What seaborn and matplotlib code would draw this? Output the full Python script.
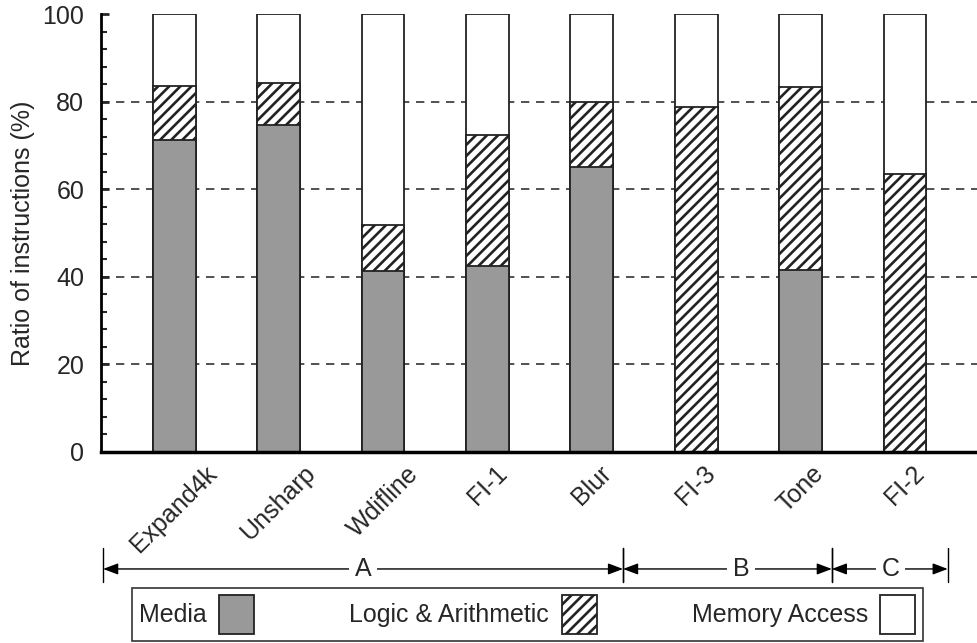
import numpy as np
import matplotlib
matplotlib.use("Agg")
import matplotlib.pyplot as plt
from matplotlib.patches import Patch
from matplotlib.ticker import MultipleLocator
import seaborn as sns

# Instruction mix per benchmark (percent of all instructions)
categories = ["Expand4k", "Unsharp", "Wdifline", "FI-1", "Blur", "FI-3", "Tone", "FI-2"]
media = [71.2, 74.6, 41.3, 42.5, 65.1, 0.0, 41.5, 0.0]
logic = [12.5, 9.7, 10.5, 30.0, 14.8, 78.7, 41.9, 63.5]
memory = [16.3, 15.7, 48.2, 27.5, 20.1, 21.3, 16.6, 36.5]
series_labels = ["Media", "Logic & Arithmetic", "Memory Access"]

# Benchmark groups: (label, left boundary, right boundary, label x)
groups = [("A", -0.68, 4.30, 1.81), ("B", 4.30, 6.30, 5.43), ("C", 6.30, 7.41, 6.86)]

sns.set_style("white")
plt.rcParams["font.family"] = ["Liberation Sans", "DejaVu Sans"]
plt.rcParams["hatch.linewidth"] = 1.9
plt.rcParams["hatch.color"] = "black"

FS = 18
EDGE = "#222222"
GRAY = "#999999"

fig = plt.figure(figsize=(9.78, 6.43), dpi=100)
ax = fig.add_axes([0.1033, 0.2975, 0.8967, 0.6804])

media_a = np.array(media)
logic_top = media_a + np.array(logic)
total = logic_top + np.array(memory)

bar_kw = dict(width=0.41, saturation=1, edgecolor=EDGE, linewidth=1.3, ax=ax, zorder=2)
sns.barplot(x=categories, y=total, color="white", **bar_kw)
sns.barplot(x=categories, y=logic_top, color="white", hatch="///", **bar_kw)
sns.barplot(x=categories, y=media_a, color=GRAY, **bar_kw)

# dashed reference lines
for lvl in [20, 40, 60, 80]:
    ax.axhline(lvl, color="#333333", lw=1.2, ls=(0, (5.0, 4.0)), zorder=0)

ax.set_xlim(-0.7, 7.7)
ax.set_ylim(0, 100)
ax.set_yticks([0, 20, 40, 60, 80, 100])
ax.yaxis.set_minor_locator(MultipleLocator(4))
ax.tick_params(axis="y", which="major", direction="in", length=6, width=2,
               labelsize=FS, pad=12, left=True)
ax.tick_params(axis="y", which="minor", direction="in", length=4, width=1.5, left=True)
ax.tick_params(axis="x", length=0, labelsize=FS, pad=7)
for lab in ax.get_xticklabels():
    lab.set_rotation(45)
    lab.set_ha("center")

for side in ["top", "right"]:
    ax.spines[side].set_visible(False)
ax.spines["left"].set_linewidth(2)
ax.spines["bottom"].set_linewidth(2.5)
ax.spines["left"].set_color("black")
ax.spines["bottom"].set_color("black")

ax.set_xlabel("")
ax.set_ylabel("Ratio of instructions (%)", fontsize=FS)
ax.yaxis.set_label_coords(-0.075, 0.5)

# group brackets under the tick labels
trans = ax.get_xaxis_transform()
y_arrow = -0.268
for name, x0, x1, xt in groups:
    for xb in (x0, x1):
        ax.plot([xb, xb], [-0.220, -0.298], transform=trans, color="black",
                lw=1.0, clip_on=False)
    ax.annotate("", xy=(x0, y_arrow), xytext=(x1, y_arrow), xycoords=trans,
                textcoords=trans,
                arrowprops=dict(arrowstyle="<|-|>,head_length=0.45,head_width=0.17",
                                mutation_scale=20, color="black", lw=1.0,
                                shrinkA=0, shrinkB=0))
    ax.text(xt, y_arrow, name, transform=trans, ha="center", va="center",
            fontsize=FS, bbox=dict(facecolor="white", edgecolor="none", pad=4))

handles = [
    Patch(facecolor=GRAY, edgecolor=EDGE, linewidth=1.3),
    Patch(facecolor="white", edgecolor=EDGE, linewidth=1.3, hatch="///"),
    Patch(facecolor="white", edgecolor=EDGE, linewidth=1.3),
]
leg = fig.legend(handles, series_labels, ncol=3, markerfirst=False, loc="center",
                 bbox_to_anchor=(0.539, 0.0443), fontsize=FS, frameon=True,
                 fancybox=False, shadow=False, framealpha=1, edgecolor="#333333",
                 handlelength=1.4, handleheight=2.0, handletextpad=0.5,
                 columnspacing=3.8, borderpad=0.3, borderaxespad=0)
leg.get_frame().set_linewidth(1.2)

fig.savefig("out.png", dpi=100)
